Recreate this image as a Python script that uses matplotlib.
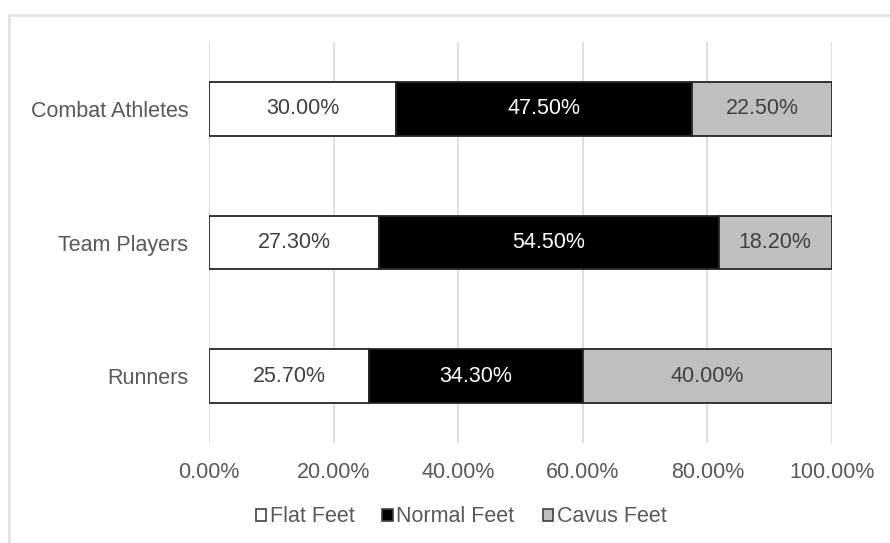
import matplotlib
matplotlib.use("Agg")
import matplotlib.pyplot as plt
from matplotlib.patches import Rectangle

categories = ["Runners", "Team Players", "Combat Athletes"]
flat = [25.7, 27.3, 30.0]
normal = [34.3, 54.5, 47.5]
cavus = [40.0, 18.2, 22.5]
series_names = ["Flat Feet", "Normal Feet", "Cavus Feet"]
ticks = [0, 20, 40, 60, 80, 100]

plt.rcParams["font.family"] = ["Liberation Sans", "DejaVu Sans"]
TXT = "#595959"

fig = plt.figure(figsize=(8.9, 5.43), dpi=100)
# outer chart border (cropped at right/bottom in the original)
fig.patches.append(Rectangle((9 / 890, -0.1), 1.2, 1 - 15 / 543 + 0.1,
                             transform=fig.transFigure, fill=False,
                             edgecolor="#E3E3E3", linewidth=2))

ax = fig.add_axes([209 / 890, 100 / 543, 623 / 890, 401 / 543])
y = range(len(categories))
styles = [("white", "#404040"), ("black", "white"), ("#BFBFBF", "#404040")]
left = [0] * len(categories)
for vals, name, (fc, tc) in zip([flat, normal, cavus], series_names, styles):
    b = ax.barh(y, vals, left=left, height=0.4, color=fc, edgecolor="#262626",
                linewidth=1.3, label=name, zorder=3)
    ax.bar_label(b, labels=[f"{v:.2f}%" for v in vals], label_type="center",
                 color=tc, fontsize=15.5)
    left = [l + v for l, v in zip(left, vals)]

ax.set_xlim(0, 100)
ax.set_ylim(-0.5, 2.5)
ax.set_xticks(ticks)
ax.set_xticklabels([f"{t:.2f}%" for t in ticks])
ax.set_yticks(list(y))
ax.set_yticklabels(categories)
ax.tick_params(length=0, labelsize=15.5, labelcolor=TXT)
ax.tick_params(axis="x", pad=14)
ax.tick_params(axis="y", pad=15)
ax.grid(axis="x", color="#D9D9D9", linewidth=1.2, zorder=0)
for s in ax.spines.values():
    s.set_visible(False)

fig.legend(loc="center", bbox_to_anchor=(461 / 890, 1 - 517 / 543), ncol=3,
           frameon=False, fontsize=15.5, labelcolor=TXT, handlelength=0.5,
           handleheight=0.5, handletextpad=0.15, columnspacing=1.3)
for h in fig.legends[0].legend_handles:
    h.set_edgecolor("#404040")
    h.set_linewidth(1.2)

fig.savefig("out.png", dpi=100)
